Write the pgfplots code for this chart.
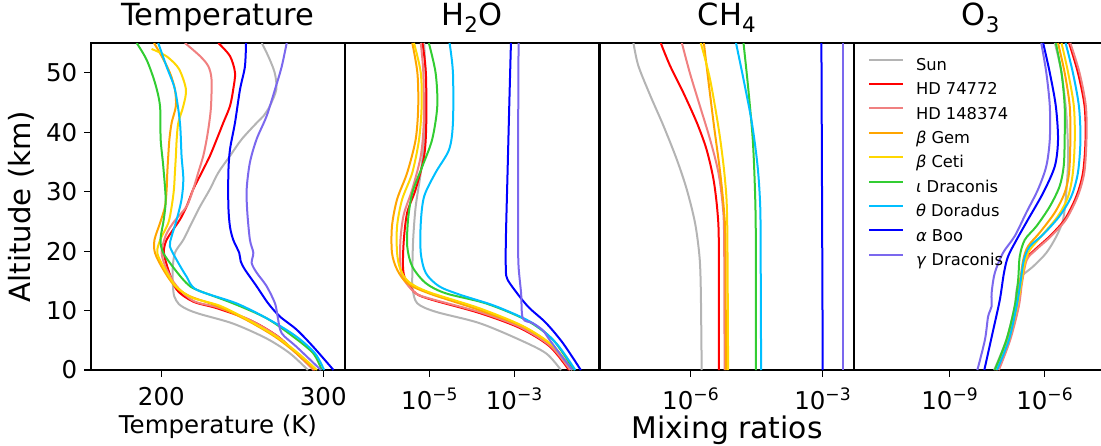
\documentclass[border=0pt]{standalone}
\usepackage{fontspec}
\setmainfont{DejaVu Sans}[ItalicFont={DejaVu Sans Oblique}]
\usepackage{pgfplots}
\pgfplotsset{compat=1.18}
\definecolor{cSun}{RGB}{180,180,180}
\definecolor{cHDa}{RGB}{255,0,0}
\definecolor{cHDb}{RGB}{240,128,128}
\definecolor{cGem}{RGB}{255,165,0}
\definecolor{cCet}{RGB}{255,215,0}
\definecolor{cIot}{RGB}{50,205,50}
\definecolor{cThe}{RGB}{0,191,255}
\definecolor{cBoo}{RGB}{0,0,255}
\definecolor{cGam}{RGB}{123,104,238}
\newcommand{\lp}[2]{\addplot[#1] table[row sep=\\, x expr=10^\thisrow{e}, y=a] {e a\\ #2};}
\pgfplotsset{
  panel/.style={
    scale only axis, width=254pt, height=327pt,
    ymin=0, ymax=55,
    axis line style={line width=1.3pt, black},
    tick style={line width=1.1pt, black},
    tick align=outside, major tick length=6.5pt,
    tick pos=left,
    xticklabel style={font=\fontsize{24.5}{24.5}\selectfont, inner sep=0pt},
    yticklabel style={font=\fontsize{24.5}{24.5}\selectfont, inner sep=0pt},
    xticklabel shift=11pt, yticklabel shift=7pt,
    minor tick num=0,
    title style={font=\fontsize{30.5}{30.5}\selectfont, at={(axis description cs:0.5,1)}, anchor=base, yshift=11.3pt, inner sep=0pt},
    every axis plot/.append style={line width=2pt, smooth, no markers},
  },
  lpanel/.style={panel, xminorticks=false, ytick=\empty},
}
\begin{document}
\begin{tikzpicture}
% ---------------- Temperature ----------------
\begin{axis}[panel, at={(91pt,75pt)}, anchor=south west,
  xmin=156.6, xmax=313.4,
  xtick={200,300}, xticklabels={200,300},
  ytick={0,10,20,30,40,50}, yticklabels={0,10,20,30,40,50},
  title={Temperature},
  xlabel={Temperature (K)},
  xlabel style={font=\fontsize{24.5}{24.5}\selectfont, at={(axis description cs:0.5,-0.1957)}, anchor=base, inner sep=0pt},
  ylabel={Altitude (km)},
  ylabel style={font=\fontsize{29.2}{29.2}\selectfont, at={(axis description cs:-0.2736,0.5)}, anchor=center, inner sep=0pt},
]
\addplot[cSun] coordinates {(262,55) (266,52.8) (270,50) (271,47.2) (267,44.4) (263,42.7) (259,41.6) (249.6,38.8) (242.4,36) (235.2,33.2) (230,30.4) (223.9,27.5) (218.7,24.7) (213.6,21.9) (208.4,19.7) (207,16.9) (207.2,14.1) (208,12.4) (210.8,11.1) (216,10.2) (224,9.4) (244.4,7.8) (265,5.3) (279.4,2.8) (290.5,0)};
\addplot[cHDa] coordinates {(235.2,55) (242.4,52.8) (245.5,50) (244.4,47.2) (242.4,44.4) (238.3,41.6) (234.2,38.8) (230,36) (224.9,33.2) (219.7,30.4) (215.6,27.5) (211.5,25.3) (206.5,23.3) (202.8,21.6) (201.6,19.7) (204.3,16.9) (209.5,13.5) (219.7,11.5) (234.2,10.4) (254.7,8.4) (271.2,5.8) (283.5,2.8) (294.5,0)};
\addplot[cHDb] coordinates {(214.6,55) (223.9,52.8) (229,51.1) (231,48.9) (230.7,44.4) (229.6,41.6) (228,38.8) (225.9,36) (222.8,33.2) (219.7,30.4) (215.6,27.5) (208,25) (203,22.8) (200.5,20.5) (200.4,19.2) (203.3,16.9) (209.5,14.1) (220,11.6) (235.2,10.5) (254,8.5) (271,5.8) (283.5,2.8) (294,0)};
\addplot[cGem] coordinates {(195.5,55) (200.2,52.8) (205.3,50) (208.4,47.2) (209,44.4) (206.4,41.6) (205,38.8) (204.3,36) (203.7,33.2) (203.3,30.4) (202.3,27.5) (199.2,24.7) (195.8,21.9) (196.1,19.7) (201.2,16.9) (208.4,14.1) (217.7,12.4) (234.2,10.8) (252.7,8.4) (270.2,5.6) (283.5,2.8) (295,0)};
\addplot[cCet] coordinates {(194,54) (199,53.4) (204.5,52.5) (211,50.6) (215.2,47.2) (213.6,44.4) (210.5,41.6) (209.5,38.8) (209,36) (208.4,33.2) (207.8,30.4) (206.4,27.5) (204.3,24.7) (199.5,22) (197.5,19.7) (202.3,16.9) (209,14.1) (218.7,12.2) (236.2,10.8) (253.7,8.4) (271.2,5.6) (284.6,2.8) (296,0)};
\addplot[cIot] coordinates {(184.8,55) (190.9,52.2) (196.1,48.3) (199.2,44.4) (199.6,38.8) (201.2,34.3) (202.7,28.7) (201.5,25.3) (199.5,21.9) (201.2,19.7) (208.4,16.9) (215.6,14.6) (221.8,13.5) (244.4,11.2) (265,8.7) (281.5,5.6) (293.8,2.8) (299,0)};
\addplot[cThe] coordinates {(198.1,55) (203.3,51) (208.4,47.2) (211.5,41.6) (212.5,36) (213.6,32.1) (212.5,28.7) (209.5,25.3) (206.4,22.5) (205.3,20.8) (209.5,18.5) (215.6,15.7) (221.8,13.5) (246.5,11.2) (267.1,8.4) (283.5,5.6) (294.9,2.8) (300.5,0)};
\addplot[cBoo] coordinates {(252.3,55) (251.6,51) (248.6,47.2) (245.5,41.6) (242.4,37.1) (241.4,33.2) (241.4,27.5) (242.4,24.1) (244.4,21.9) (248.1,19.7) (249,18.3) (251.6,16.9) (258.8,14.1) (266,11.2) (273.2,9.0) (283.5,6.8) (293.8,3.9) (306.3,0)};
\addplot[cGam] coordinates {(277.4,55) (274.3,51) (270.2,47.2) (265,42.7) (258.8,38.8) (254.7,34.9) (252.7,30.4) (253.1,26.5) (254.7,21.9) (256.8,19.7) (255.8,18) (258.8,16.4) (265,14.1) (270.2,11.2) (271.8,9) (274.3,6.2) (283.5,3.9) (298.5,0)};
\end{axis}
% ---------------- H2O ----------------
\begin{axis}[xmode=log, lpanel, at={(345pt,75pt)}, anchor=south west,
  xmin=1e-7, xmax=1e-1,
  xtick={1e-5,1e-3}, xticklabels={10\textsuperscript{−5},10\textsuperscript{−3}},
  title={H\textsubscript{2}O},
]
\lp{cSun}{-5.13 55\\ -5.09 47.2\\ -5.13 38.8\\ -5.21 33.2\\ -5.33 27.5\\ -5.39 21.9\\ -5.41 16.3\\ -5.40 13.5\\ -5.29 11.2\\ -4.86 9.8\\ -3.83 7.9\\ -2.88 5.1\\ -2.25 2.8\\ -1.90 0\\}
\lp{cHDa}{-5.17 55\\ -5.09 50\\ -5.08 41.6\\ -5.13 36\\ -5.33 30.4\\ -5.53 26.5\\ -5.61 21.9\\ -5.63 17.4\\ -5.57 15.2\\ -5.33 12.9\\ -4.94 11.8\\ -3.83 9.6\\ -2.88 7.1\\ -2.17 4.0\\ -1.71 0\\}
\lp{cHDb}{-5.21 55\\ -5.15 50\\ -5.14 41.6\\ -5.21 36\\ -5.41 30.4\\ -5.61 26.2\\ -5.69 21.9\\ -5.69 17.4\\ -5.61 15.2\\ -5.33 12.9\\ -4.94 11.9\\ -3.80 9.7\\ -2.86 7.2\\ -2.14 4.0\\ -1.68 0\\}
\lp{cGem}{-5.41 55\\ -5.29 50\\ -5.27 44.4\\ -5.33 38.8\\ -5.53 33.2\\ -5.77 28.7\\ -5.89 24.2\\ -5.89 19.7\\ -5.77 16.9\\ -5.53 14.6\\ -5.02 12.9\\ -3.83 10.1\\ -2.80 7.3\\ -2.09 4.0\\ -1.63 0\\}
\lp{cCet}{-5.37 55\\ -5.21 50\\ -5.19 44.4\\ -5.25 38.8\\ -5.41 33.2\\ -5.65 28.7\\ -5.77 24.2\\ -5.77 19.7\\ -5.69 16.9\\ -5.49 14.8\\ -5.02 13.1\\ -3.83 10.4\\ -2.80 7.4\\ -2.09 4.1\\ -1.64 0\\}
\lp{cIot}{-5.02 55\\ -4.86 50\\ -4.82 44.4\\ -4.94 38.8\\ -5.17 34.3\\ -5.41 29.8\\ -5.51 25.3\\ -5.53 20.8\\ -5.41 17.4\\ -5.09 14.6\\ -4.62 12.9\\ -3.67 11.2\\ -2.72 8.4\\ -2.09 5.1\\ -1.59 0\\}
\lp{cThe}{-4.53 55\\ -4.45 50\\ -4.45 41.6\\ -4.54 37.1\\ -4.86 33.2\\ -5.13 29.2\\ -5.21 24.7\\ -5.21 19.7\\ -5.09 16.3\\ -4.78 14.1\\ -4.30 12.7\\ -3.43 10.7\\ -2.57 7.9\\ -2.01 4.5\\ -1.56 0\\}
\lp{cBoo}{-3.08 55\\ -3.12 44.4\\ -3.16 33.2\\ -3.20 21.9\\ -3.20 16.9\\ -3.16 15.2\\ -2.88 12.4\\ -2.64 10.4\\ -2.25 7.9\\ -1.85 4.5\\ -1.43 0\\}
\lp{cGam}{-2.90 55\\ -2.91 38.8\\ -2.91 21.9\\ -2.90 17.4\\ -2.84 12.9\\ -2.80 8.7\\ -2.57 7.9\\ -2.33 6.7\\ -2.17 5.1\\ -1.93 2.8\\ -1.63 0\\}
\end{axis}
% ---------------- CH4 ----------------
\begin{axis}[xmode=log, lpanel, at={(600pt,75pt)}, anchor=south west,
  xmin=8.71e-9, xmax=5.13e-3,
  xtick={1e-6,1e-3}, xticklabels={10\textsuperscript{−6},10\textsuperscript{−3}},
  title={CH\textsubscript{4}},
  xlabel={Mixing ratios},
  xlabel style={font=\fontsize{29.8}{29.8}\selectfont, at={(axis description cs:0.5,-0.2089)}, anchor=base, inner sep=0pt},
]
\lp{cSun}{-7.30 55\\ -7.19 51.2\\ -6.92 46.2\\ -6.62 41.1\\ -6.32 35.5\\ -6.09 30.4\\ -5.90 24.7\\ -5.80 19.1\\ -5.77 13.5\\ -5.75 0\\}
\lp{cHDa}{-6.68 55\\ -6.47 51.2\\ -6.17 46.7\\ -5.86 41.6\\ -5.64 37.1\\ -5.48 32.0\\ -5.39 26.5\\ -5.36 20.8\\ -5.36 0\\}
\lp{cHDb}{-6.20 55\\ -6.02 50\\ -5.79 44.4\\ -5.56 38.8\\ -5.37 33.2\\ -5.27 27.5\\ -5.24 21.9\\ -5.23 0\\}
\lp{cGem}{-5.70 55\\ -5.62 50\\ -5.48 41.6\\ -5.33 33.2\\ -5.24 26.5\\ -5.21 20.8\\ -5.20 0\\}
\lp{cCet}{-5.77 55\\ -5.56 48.9\\ -5.35 39.9\\ -5.22 32.0\\ -5.17 24.7\\ -5.15 0\\}
\lp{cIot}{-4.80 55\\ -4.69 47.2\\ -4.59 38.8\\ -4.54 30.4\\ -4.52 21.9\\ -4.52 0\\}
\lp{cThe}{-4.97 55\\ -4.80 48.9\\ -4.61 41.6\\ -4.48 34.3\\ -4.42 27.5\\ -4.41 19.1\\ -4.40 0\\}
\lp{cBoo}{-3.03 55\\ -3.00 0\\}
\lp{cGam}{-2.545 55\\ -2.545 0\\}
\end{axis}
% ---------------- O3 ----------------
\begin{axis}[xmode=log, lpanel, at={(854pt,75pt)}, anchor=south west,
  xmin=9.33e-13, xmax=1e-4,
  xtick={1e-9,1e-6}, xticklabels={10\textsuperscript{−9},10\textsuperscript{−6}},
  title={O\textsubscript{3}},
  legend style={at={(axis description cs:0,1)}, anchor=north west, xshift=14pt, yshift=-9.8pt,
    draw=none, fill=none, inner sep=0pt, outer sep=0pt, row sep=0pt, column sep=12pt,
    font=\fontsize{16.3}{16.3}\selectfont,
    nodes={inner sep=0pt, text height=17.5pt, text depth=6.9pt}},
  legend cell align=left,
  legend image code/.code={\draw[#1, line width=2pt] (0pt,5.5pt) -- (34pt,5.5pt);},
]
\lp{cSun}{-5.68 55\\ -5.47 50\\ -5.32 43.3\\ -5.26 36.0\\ -5.32 29.8\\ -5.42 25.3\\ -5.63 22.5\\ -5.95 19.7\\ -6.37 17.4\\ -6.74 15.7\\ -6.89 13.5\\ -6.95 10.7\\ -7.21 5.1\\ -7.60 0\\}
\addlegendentry{Sun}
\lp{cHDa}{-5.23 55\\ -4.95 50\\ -4.74 44.4\\ -4.71 38.8\\ -4.79 33.2\\ -5.00 29.2\\ -5.37 25.3\\ -5.84 22.5\\ -6.32 20.2\\ -6.60 18.5\\ -6.74 14.6\\ -6.84 10.7\\ -7.11 5.1\\ -7.47 0\\}
\addlegendentry{HD 74772}
\lp{cHDb}{-5.19 55\\ -4.90 50\\ -4.70 44.4\\ -4.68 38.8\\ -4.75 33.2\\ -4.96 29.2\\ -5.33 25.3\\ -5.80 22.5\\ -6.28 20.2\\ -6.57 18.5\\ -6.72 14.6\\ -6.82 10.7\\ -7.09 5.1\\ -7.45 0\\}
\addlegendentry{HD 148374}
\lp{cGem}{-5.58 55\\ -5.37 50\\ -5.21 44.4\\ -5.19 38.8\\ -5.23 33.2\\ -5.37 29.8\\ -5.68 26.5\\ -6.16 23.1\\ -6.53 20.8\\ -6.68 18.5\\ -6.79 14.6\\ -6.92 10.7\\ -7.16 5.1\\ -7.55 0\\}
\addlegendentry{\textit{β} Gem}
\lp{cCet}{-5.47 55\\ -5.26 50\\ -5.08 44.4\\ -5.05 38.8\\ -5.11 33.2\\ -5.26 29.2\\ -5.58 25.9\\ -6.11 22.5\\ -6.47 20.2\\ -6.63 18.0\\ -6.74 14.6\\ -6.87 10.7\\ -7.13 5.1\\ -7.53 0\\}
\addlegendentry{\textit{β} Ceti}
\lp{cIot}{-5.65 55\\ -5.47 50\\ -5.37 44.4\\ -5.37 38.8\\ -5.40 34.3\\ -5.53 30.9\\ -5.84 27.5\\ -6.26 24.2\\ -6.63 21.9\\ -6.79 19.1\\ -6.84 15.2\\ -6.95 10.7\\ -7.21 5.1\\ -7.58 0\\}
\addlegendentry{\textit{ι} Draconis}
\lp{cThe}{-5.34 55\\ -5.11 50\\ -4.92 44.4\\ -4.87 38.8\\ -4.95 33.2\\ -5.16 29.2\\ -5.53 25.9\\ -6.05 22.8\\ -6.47 20.8\\ -6.66 18.5\\ -6.77 14.6\\ -6.89 10.7\\ -7.13 5.1\\ -7.51 0\\}
\addlegendentry{\textit{θ} Doradus}
\lp{cBoo}{-6.05 55\\ -5.84 50\\ -5.65 44.4\\ -5.58 38.8\\ -5.68 34.3\\ -6.05 29.8\\ -6.53 25.3\\ -6.89 21.9\\ -7.16 19.1\\ -7.29 16.3\\ -7.42 11.8\\ -7.63 6.7\\ -7.91 0\\}
\addlegendentry{\textit{α} Boo}
\lp{cGam}{-6.11 55\\ -5.95 50\\ -5.84 44.4\\ -5.84 38.8\\ -5.95 34.3\\ -6.21 30.4\\ -6.58 26.5\\ -6.95 22.5\\ -7.32 19.7\\ -7.58 16.3\\ -7.68 12.9\\ -7.68 10.7\\ -7.79 9.0\\ -7.89 5.1\\ -8.13 0\\}
\addlegendentry{\textit{γ} Draconis}
\end{axis}
\pgfresetboundingbox
\useasboundingbox (0,0) rectangle (1101pt,445pt);
\end{tikzpicture}
\end{document}
